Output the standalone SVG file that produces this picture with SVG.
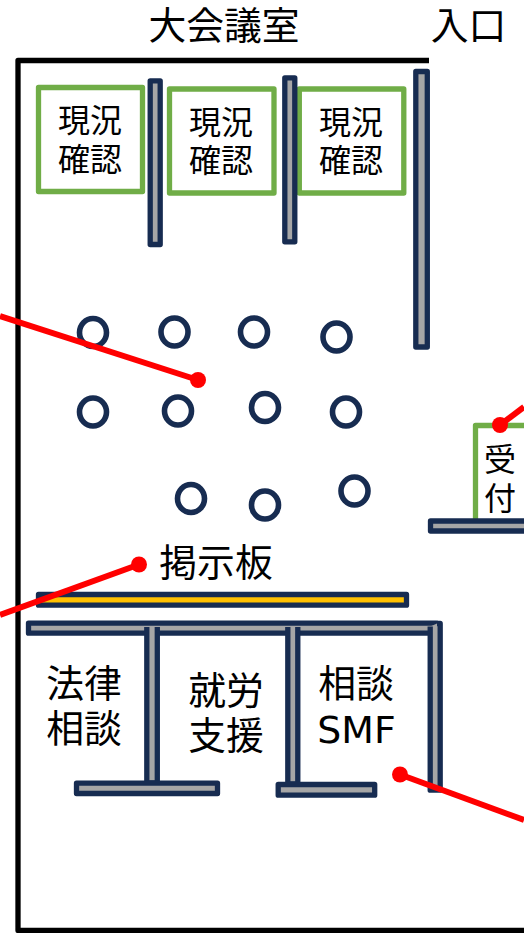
<svg xmlns="http://www.w3.org/2000/svg" width="524" height="933" viewBox="0 0 524 933">
<style>
text{font-family:"Noto Sans CJK JP",sans-serif;fill:#000;text-anchor:middle}
.s38{font-size:37.800px}.s32{font-size:32px}
.latin{font-family:"DejaVu Sans",sans-serif}
.box{fill:#fff;stroke:#70AD47;stroke-width:5.300;stroke-linejoin:round}
.wall{fill:#A6A6A6;stroke:#172C51;stroke-width:5.300;stroke-linejoin:round}
.seat{fill:#fff;stroke:#172C51;stroke-width:5.600}
.lead{stroke:#FF0000;stroke-width:6;fill:none}
.dot{fill:#FF0000}
</style>
<rect width="524" height="933" fill="#fff"/>
<g id="room"><path d="M429 60.500H18V930.500H524" fill="none" stroke="#000" stroke-width="5.300" stroke-linejoin="round"/></g>
<g id="title"><text class="s38" x="224" y="39">大会議室</text></g>
<g id="entrance"><text class="s38" x="468.500" y="39">入口</text></g>
<g id="check1"><rect class="box" x="38.500" y="87.500" width="104" height="104"/><text class="s32" x="90" y="132">現況<tspan x="90" dy="39">確認</tspan></text></g>
<g id="check2"><rect class="box" x="169.500" y="89" width="104.500" height="104"/><text class="s32" x="221" y="134">現況<tspan x="221" dy="38">確認</tspan></text></g>
<g id="check3"><rect class="box" x="299.300" y="89" width="104.500" height="104"/><text class="s32" x="351" y="134">現況<tspan x="351" dy="38">確認</tspan></text></g>
<g id="partition1"><rect class="wall" x="150.200" y="80.800" width="10" height="163.700"/></g>
<g id="partition2"><rect class="wall" x="284.800" y="77.800" width="10" height="164"/></g>
<g id="partition3"><rect class="wall" x="415.800" y="71.500" width="11.500" height="275.500"/></g>
<g id="seats">
<ellipse class="seat" cx="93" cy="332.500" rx="13.500" ry="14"/><ellipse class="seat" cx="174.500" cy="332" rx="13.500" ry="14"/><ellipse class="seat" cx="254" cy="332" rx="13.500" ry="14"/><ellipse class="seat" cx="336.500" cy="337" rx="13.500" ry="14"/>
<ellipse class="seat" cx="93" cy="412" rx="13.500" ry="14"/><ellipse class="seat" cx="178" cy="411" rx="13.500" ry="14"/><ellipse class="seat" cx="265" cy="407.500" rx="13.500" ry="14"/><ellipse class="seat" cx="346" cy="412" rx="13.500" ry="14"/>
<ellipse class="seat" cx="191" cy="498.500" rx="13.500" ry="14"/><ellipse class="seat" cx="265" cy="505" rx="13.500" ry="14"/><ellipse class="seat" cx="354.500" cy="491" rx="13.500" ry="14"/>
</g>
<g id="reception"><rect class="box" x="475.500" y="425.500" width="60" height="100"/><text class="s32" x="500" y="471">受<tspan x="500" dy="39">付</tspan></text><rect class="wall" x="430.500" y="521" width="110" height="10"/></g>
<g id="board"><rect x="38.500" y="594.500" width="368" height="10.700" fill="#FFC000" stroke="#172C51" stroke-width="5.300" stroke-linejoin="round"/><text class="s38" x="216" y="576">掲示板</text></g>
<g id="booths">
<rect class="wall" x="28.500" y="623.200" width="408" height="10"/>
<path class="wall" d="M146.800 627V783H157.300V627"/>
<path class="wall" d="M287.800 627V784H297.800V627"/>
<path class="wall" d="M430.200 626.500V790.200H440.200V623.500L437 623.500"/>
<rect class="wall" x="76.500" y="783.200" width="141" height="10.300"/>
<rect class="wall" x="278.200" y="784.500" width="96.500" height="10.700"/>
</g>
<g id="label-law"><text class="s38" x="84" y="697">法律<tspan x="84" dy="45">相談</tspan></text></g>
<g id="label-work"><text class="s38" x="226" y="704">就労<tspan x="226" dy="45">支援</tspan></text></g>
<g id="label-smf"><text class="s38" x="356" y="697">相談</text><text class="s38 latin" x="356.500" y="743">SMF</text></g>
<g id="connectors">
<path class="lead" d="M0 316L198 380"/><circle class="dot" cx="198" cy="380" r="8"/>
<path class="lead" d="M524 407L500 425"/><circle class="dot" cx="500" cy="425" r="8"/>
<path class="lead" d="M0 615L139 564.500"/><circle class="dot" cx="139" cy="564.500" r="8"/>
<path class="lead" d="M400 774.500L524 820"/><circle class="dot" cx="400" cy="774.500" r="8"/>
</g>
</svg>
